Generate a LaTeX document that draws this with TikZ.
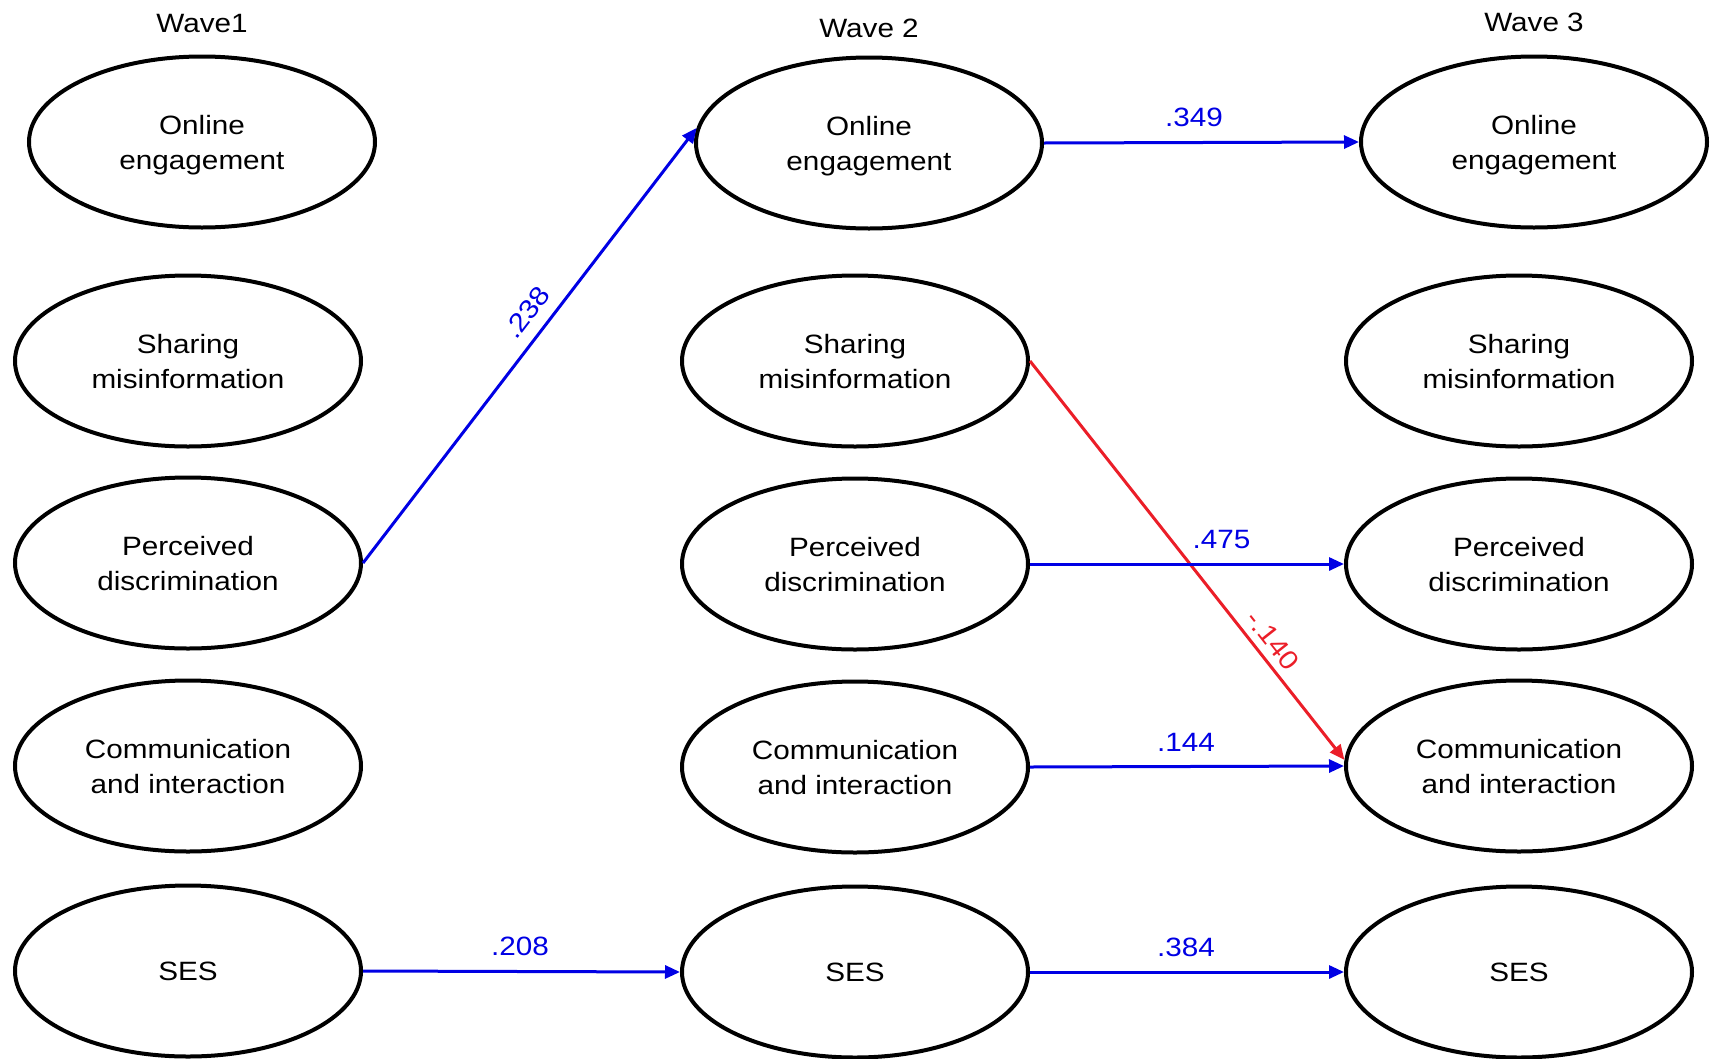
\documentclass[tikz,border=0pt]{standalone}
\usepackage{fontspec}
\setmainfont{Liberation Sans}
\newfontfamily\dfont[FakeStretch=1.12]{Liberation Sans}
\usetikzlibrary{arrows.meta,shapes.geometric}
\definecolor{pathblue}{RGB}{0,0,228}
\definecolor{pathred}{RGB}{235,30,40}
\begin{document}
\begin{tikzpicture}[x=1pt,y=-1pt,
  var/.style={ellipse,draw=black,line width=4pt,minimum width=346pt,minimum height=171pt,inner sep=0pt,align=center,text depth=0pt,font=\dfont\fontsize{26.5}{35}\selectfont},
  wave/.style={font=\dfont\fontsize{26.5}{35}\selectfont,inner sep=0pt},
  pathb/.style={draw=pathblue,line width=3pt,-{Triangle[length=15pt,width=13pt]}},
  pathr/.style={draw=pathred,line width=3pt,-{Triangle[length=15pt,width=13pt]}},
  lab/.style={font=\dfont\fontsize{26.5}{35}\selectfont,inner xsep=0pt,inner ysep=14pt,anchor=south}]
\path[use as bounding box] (0,0) rectangle (1714,1058);
% titles
\node[wave] (t1) at (202,24) {Wave1};
\node[wave] (t2) at (869,28) {Wave 2};
\node[wave] (t3) at (1534,22) {Wave 3};
% wave 1
\node[var] (o1) at (202,142) {Online\\engagement};
\node[var] (s1) at (188,361) {Sharing\\misinformation};
\node[var] (p1) at (188,563) {Perceived\\discrimination};
\node[var] (c1) at (188,766) {Communication\\and interaction};
\node[var] (e1) at (188,971) {SES};
% wave 2
\node[var] (o2) at (869,143) {Online\\engagement};
\node[var] (s2) at (855,361) {Sharing\\misinformation};
\node[var] (p2) at (855,564) {Perceived\\discrimination};
\node[var] (c2) at (855,767) {Communication\\and interaction};
\node[var] (e2) at (855,972) {SES};
% wave 3
\node[var] (o3) at (1534,142) {Online\\engagement};
\node[var] (s3) at (1519,361) {Sharing\\misinformation};
\node[var] (p3) at (1519,564) {Perceived\\discrimination};
\node[var] (c3) at (1519,766) {Communication\\and interaction};
\node[var] (e3) at (1519,972) {SES};
% paths
\draw[pathb] (p1.east) -- node[lab,text=pathblue,sloped,pos=0.544,inner ysep=12pt] (l1) {.238} (o2.175);
\draw[pathb] (o2.east) -- node[lab,text=pathblue,pos=0.476] (l2) {.349} (o3.west);
\draw[pathr] (s2.east) -- node[lab,text=pathred,sloped,pos=0.728,inner ysep=7pt] (l3) {-.140} (c3.178);
\draw[pathb] (p2.east) -- node[lab,text=pathblue,pos=0.61] (l4) {.475} (p3.west);
\draw[pathb] (c2.east) -- node[lab,text=pathblue,pos=0.497] (l5) {.144} (c3.west);
\draw[pathb] (e1.east) -- node[lab,text=pathblue,pos=0.495] (l6) {.208} (e2.west);
\draw[pathb] (e2.east) -- node[lab,text=pathblue,pos=0.497] (l7) {.384} (e3.west);
\end{tikzpicture}
\end{document}
